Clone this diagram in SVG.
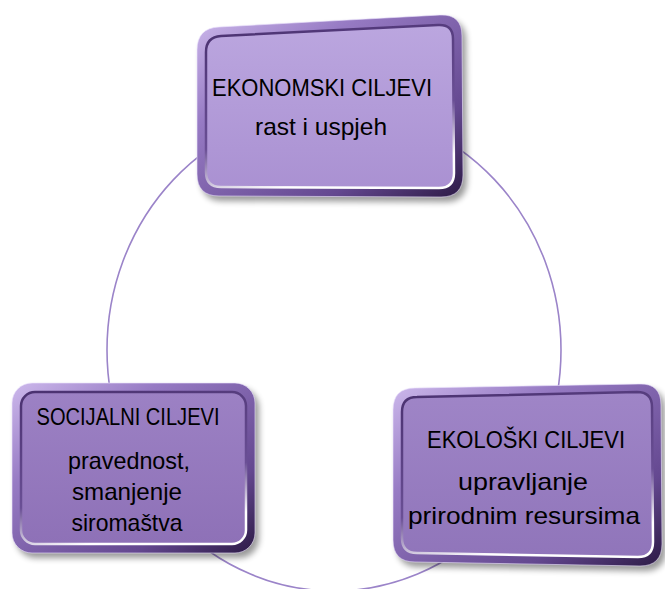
<svg xmlns="http://www.w3.org/2000/svg" width="665" height="589" viewBox="0 0 665 589">
<defs>
<filter id="sh" x="-10%" y="-10%" width="125%" height="130%"><feGaussianBlur stdDeviation="3"/></filter>
<linearGradient id="frame" x1="0" y1="0" x2="1" y2="1">
<stop offset="0" stop-color="#cdb9ec"/><stop offset="0.3" stop-color="#977bc4"/><stop offset="0.75" stop-color="#644890"/><stop offset="1" stop-color="#2c1a45"/>
</linearGradient>
<linearGradient id="edge" x1="0" y1="0" x2="0.3" y2="1">
<stop offset="0" stop-color="#4a3170"/><stop offset="0.7" stop-color="#6a4f95"/><stop offset="1" stop-color="#ffffff"/>
</linearGradient>
<linearGradient id="pTop" x1="0" y1="0" x2="0" y2="1"><stop offset="0" stop-color="#bba6df"/><stop offset="1" stop-color="#aa91d2"/></linearGradient>
<linearGradient id="pLeft" x1="0" y1="0" x2="0" y2="1"><stop offset="0" stop-color="#9c81c4"/><stop offset="1" stop-color="#8e71b7"/></linearGradient>
<linearGradient id="pRight" x1="0" y1="0" x2="0" y2="1"><stop offset="0" stop-color="#9f85c7"/><stop offset="1" stop-color="#9075ba"/></linearGradient>
</defs>
<style>
.shadow{fill:#000;opacity:0.4;filter:url(#sh)}
.frame{fill:url(#frame);stroke:#efe6ff;stroke-opacity:0.6;stroke-width:1}
.inner{stroke:url(#edge);stroke-width:2.5}
.t{font-family:"Liberation Sans","Noto Sans",sans-serif;font-size:24px;fill:#000;text-anchor:middle}
.link{fill:none;stroke:#9b84c9;stroke-width:1.6}
</style>
<g id="connectors">
<ellipse class="link" cx="334" cy="350" rx="227" ry="241"/>
</g>
<g id="node-ekonomski">
<path class="shadow" transform="translate(4,5)" d="M 197,50 Q 197,28 219,27 L 440,15 Q 462,14 462,36 L 463,175 Q 463,197 441,197 L 219,196 Q 197,196 197,174 Z"/>
<path class="frame" d="M 197,50 Q 197,28 219,27 L 440,15 Q 462,14 462,36 L 463,175 Q 463,197 441,197 L 219,196 Q 197,196 197,174 Z"/>
<path class="inner" fill="url(#pTop)" d="M 206,52 Q 206,37 221,36 L 438,25 Q 453,24 453,39 L 454,173 Q 454,188 439,188 L 221,187 Q 206,187 206,172 Z"/>
<text class="t" x="322" y="96" textLength="220" lengthAdjust="spacingAndGlyphs">EKONOMSKI CILJEVI</text>
<text class="t" x="321" y="135" textLength="132" lengthAdjust="spacingAndGlyphs">rast i uspjeh</text>
</g>
<g id="node-socijalni">
<rect class="shadow" x="16" y="388" width="243" height="170" rx="20"/>
<rect class="frame" x="12" y="383" width="243" height="170" rx="20"/>
<rect class="inner" fill="url(#pLeft)" x="21" y="392" width="225" height="152" rx="14"/>
<text class="t" x="128" y="425" textLength="183" lengthAdjust="spacingAndGlyphs">SOCIJALNI CILJEVI</text>
<text class="t" x="129" y="469" textLength="122" lengthAdjust="spacingAndGlyphs">pravednost,</text>
<text class="t" x="127" y="500" textLength="110" lengthAdjust="spacingAndGlyphs">smanjenje</text>
<text class="t" x="127" y="531" textLength="111" lengthAdjust="spacingAndGlyphs">siromaštva</text>
</g>
<g id="node-ekoloski">
<path class="shadow" transform="translate(4,5)" d="M 393,410 Q 393,388 415,388 L 639,384 Q 661,383 661,405 L 662,544 Q 662,566 640,566 L 415,562 Q 393,562 393,540 Z"/>
<path class="frame" d="M 393,410 Q 393,388 415,388 L 639,384 Q 661,383 661,405 L 662,544 Q 662,566 640,566 L 415,562 Q 393,562 393,540 Z"/>
<path class="inner" fill="url(#pRight)" d="M 402,412 Q 402,397 417,397 L 637,392 Q 652,392 652,407 L 653,542 Q 653,557 638,557 L 417,553 Q 402,553 402,538 Z"/>
<text class="t" x="526" y="448" textLength="198" lengthAdjust="spacingAndGlyphs">EKOLOŠKI CILJEVI</text>
<text class="t" x="523" y="490" textLength="130" lengthAdjust="spacingAndGlyphs">upravljanje</text>
<text class="t" x="524" y="524" textLength="232" lengthAdjust="spacingAndGlyphs">prirodnim resursima</text>
</g>
</svg>
